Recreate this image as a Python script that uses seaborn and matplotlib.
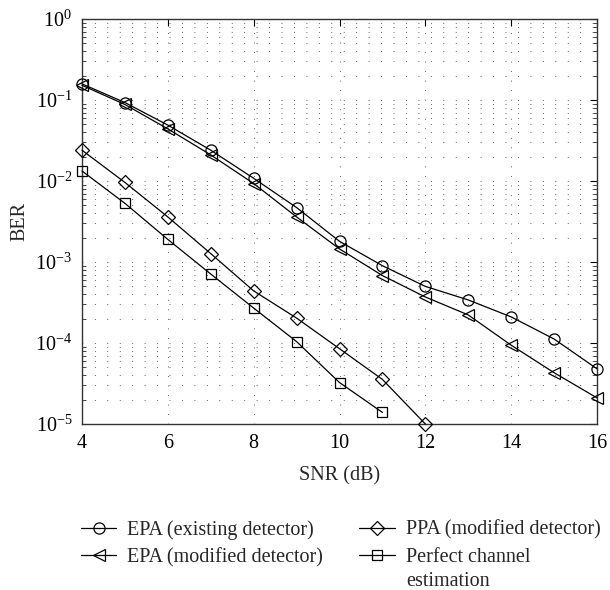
import numpy as np
import pandas as pd
import matplotlib
matplotlib.use("Agg")
import matplotlib.pyplot as plt
import seaborn as sns
from matplotlib.ticker import LogLocator, NullFormatter

sns.set_theme(style="white")
plt.rcParams["font.family"] = ["Liberation Serif", "DejaVu Serif"]
plt.rcParams["mathtext.fontset"] = "stix"

# SNR axis and BER curves
snr = [4, 5, 6, 7, 8, 9, 10, 11, 12, 13, 14, 15, 16]
ber_epa_existing = [0.158, 0.093, 0.049, 0.024, 0.0108, 0.0047, 0.0018,
                    0.00090, 0.00050, 0.00034, 0.00021, 0.000112, 0.000048]
ber_epa_modified = [0.152, 0.088, 0.044, 0.021, 0.0093, 0.0036, 0.00145,
                    0.00068, 0.00037, 0.000222, 0.000094, 0.000043, 0.000021]
snr_ppa = [4, 5, 6, 7, 8, 9, 10, 11, 12]
ber_ppa_modified = [0.024, 0.0096, 0.0036, 0.00127, 0.00044, 0.000203,
                    0.000085, 0.0000355, 0.00001]
snr_perfect = [4, 5, 6, 7, 8, 9, 10, 11]
ber_perfect = [0.0133, 0.0053, 0.0019, 0.00071, 0.00027, 0.000104,
               0.0000325, 0.0000139]

labels = ["EPA (existing detector)", "EPA (modified detector)",
          "PPA (modified detector)", "Perfect channel"]
label_tail = "estimation"
markers = ["o", "<", "D", "s"]
msizes = [8, 8, 7.5, 7]

series = [(snr, ber_epa_existing), (snr, ber_epa_modified),
          (snr_ppa, ber_ppa_modified), (snr_perfect, ber_perfect)]

fig = plt.figure(figsize=(6.1, 5.9), dpi=100)
ax = fig.add_axes([82 / 610, 1 - 424 / 590, (597 - 82) / 610, (424 - 19) / 590])

for (x, y), lab, mk, ms in zip(series, labels, markers, msizes):
    df = pd.DataFrame({"SNR": x, "BER": y})
    sns.lineplot(data=df, x="SNR", y="BER", ax=ax, color="black", lw=0.9,
                 marker=mk, markersize=ms, markerfacecolor="none",
                 markeredgecolor="black", markeredgewidth=0.9, label=lab,
                 legend=False, clip_on=False, zorder=3)

ax.set_yscale("log")
ax.set_xlim(4, 16)
ax.set_ylim(1e-5, 1)
ax.set_xticks([4, 6, 8, 10, 12, 14, 16])
ax.yaxis.set_major_locator(LogLocator(base=10, numticks=10))
ax.yaxis.set_minor_locator(LogLocator(base=10, subs=np.arange(2, 10), numticks=10))
ax.yaxis.set_minor_formatter(NullFormatter())

ax.grid(True, which="major", axis="x", color="#444444", lw=0.7,
        linestyle=(0, (0.8, 9)))
ax.grid(True, which="both", axis="y", color="#444444", lw=0.7,
        linestyle=(0, (0.8, 12)))

ax.tick_params(which="major", direction="in", length=5, width=0.8,
               top=True, right=True, labelsize=14.5, colors="black", pad=7)
ax.tick_params(which="minor", direction="in", length=3, width=0.6,
               top=False, right=True, left=True)
for s in ax.spines.values():
    s.set_color("#333333")
    s.set_linewidth(1.0)

ax.set_xlabel("SNR (dB)", fontsize=14.5, labelpad=10)
ax.set_ylabel("BER", fontsize=14.5, labelpad=4)

handles, labs = ax.get_legend_handles_labels()
leg = fig.legend(handles, labs, loc="upper left",
                 bbox_to_anchor=(81 / 610, 1 - 520 / 590), ncol=2,
                 frameon=False, fontsize=14.5, handlelength=1.75,
                 handletextpad=0.55, columnspacing=1.8, labelspacing=0.4,
                 borderpad=0, borderaxespad=0)

# second line of the last legend entry, set under its first line
fig.canvas.draw()
last = leg.get_texts()[-1]
bb = last.get_window_extent()
x0, y0 = fig.transFigure.inverted().transform((bb.x0, bb.y0))
fig.text(x0, y0 - 5 / 590, label_tail, fontsize=14.5, ha="left", va="top")

fig.savefig("out.png", dpi=100)
